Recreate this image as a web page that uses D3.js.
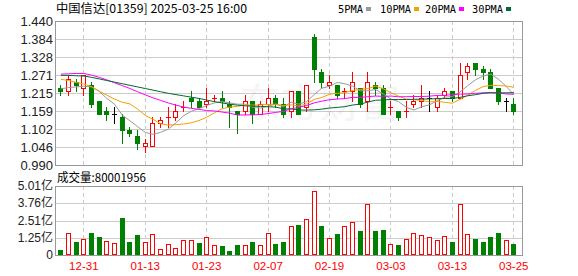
<!DOCTYPE html>
<html><head><meta charset="utf-8">
<script src="https://cdn.jsdelivr.net/npm/d3@7"></script>
<style>body{margin:0;background:#fff}svg{display:block}</style>
</head><body><svg id="c" width="578" height="276"></svg>
<script>
const dates = ["12-24","12-27","12-30","12-31","01-02","01-03","01-06","01-07","01-08","01-09","01-10","01-13","01-14","01-15","01-16","01-17","01-20","01-21","01-22","01-23","01-24","01-27","01-28","02-03","02-04","02-05","02-06","02-07","02-10","02-11","02-12","02-13","02-14","02-17","02-18","02-19","02-20","02-21","02-24","02-25","02-26","02-27","02-28","03-03","03-04","03-05","03-06","03-07","03-10","03-11","03-12","03-13","03-14","03-17","03-18","03-19","03-20","03-21","03-24","03-25"];
const open  = [1.23,1.22,1.25,1.23,1.24,1.19,1.16,1.15,1.14,1.10,1.08,1.05,1.05,1.12,1.14,1.14,1.17,1.20,1.19,1.18,1.20,1.20,1.18,1.16,1.16,1.19,1.15,1.18,1.20,1.18,1.16,1.22,1.17,1.39,1.28,1.24,1.24,1.22,1.22,1.23,1.19,1.24,1.23,1.17,1.16,1.16,1.18,1.19,1.20,1.17,1.21,1.22,1.20,1.28,1.31,1.29,1.28,1.23,1.19,1.18];
const high  = [1.24,1.27,1.26,1.27,1.25,1.19,1.17,1.17,1.15,1.11,1.10,1.07,1.14,1.14,1.17,1.18,1.19,1.22,1.20,1.23,1.21,1.22,1.19,1.16,1.21,1.19,1.19,1.23,1.21,1.20,1.22,1.22,1.24,1.40,1.29,1.27,1.24,1.23,1.28,1.23,1.28,1.25,1.24,1.19,1.16,1.19,1.21,1.24,1.22,1.21,1.23,1.22,1.31,1.31,1.31,1.30,1.29,1.23,1.20,1.20];
const low   = [1.21,1.21,1.22,1.21,1.17,1.15,1.13,1.12,1.06,1.08,1.04,1.03,1.05,1.11,1.11,1.13,1.16,1.17,1.17,1.17,1.19,1.17,1.11,1.09,1.15,1.12,1.15,1.16,1.17,1.14,1.14,1.15,1.16,1.25,1.23,1.23,1.20,1.20,1.19,1.17,1.16,1.21,1.15,1.15,1.13,1.14,1.17,1.17,1.16,1.16,1.20,1.19,1.20,1.26,1.27,1.26,1.23,1.18,1.16,1.15];
const close = [1.22,1.26,1.24,1.27,1.18,1.15,1.15,1.15,1.10,1.09,1.06,1.06,1.12,1.13,1.14,1.16,1.17,1.19,1.17,1.19,1.20,1.19,1.17,1.15,1.19,1.15,1.18,1.20,1.18,1.15,1.22,1.15,1.24,1.29,1.25,1.25,1.21,1.22,1.25,1.18,1.25,1.23,1.15,1.17,1.14,1.16,1.19,1.20,1.20,1.20,1.22,1.20,1.27,1.30,1.29,1.28,1.23,1.19,1.19,1.16];
const prevCloseBefore = 1.23;
const volume = [36000000,158000000,94000000,114000000,160000000,131000000,102000000,87000000,269000000,94000000,145000000,94000000,150000000,44000000,78000000,51000000,109000000,109000000,87000000,129000000,70000000,65000000,29000000,73000000,70000000,94000000,70000000,158000000,80000000,94000000,208000000,218000000,259000000,462000000,210000000,121000000,152000000,208000000,237000000,174000000,368000000,174000000,182000000,78000000,70000000,114000000,160000000,143000000,129000000,109000000,136000000,94000000,368000000,150000000,114000000,94000000,129000000,160000000,109000000,80001956];
// leading moving-average values (windows reaching before the first visible day)
const ma5Lead  = [1.228,1.232,1.234,1.236];
const ma10Lead = [1.258,1.254,1.248,1.243,1.235,1.221,1.208,1.196,1.186];
const ma20Lead = [1.274,1.275,1.276,1.276,1.271,1.264,1.256,1.247,1.238,1.229,1.219,1.209,1.200,1.192,1.184,1.177,1.171,1.167,1.164];
const ma30Lead = [1.270,1.270,1.269,1.268,1.264,1.259,1.254,1.249,1.244,1.239,1.234,1.229,1.224,1.219,1.214,1.210,1.206,1.202,1.198,1.193,1.188,1.184,1.180,1.177,1.175,1.174,1.173,1.172,1.171];
const priceTicks = [0.990,1.04625,1.1025,1.15875,1.215,1.27125,1.3275,1.38375,1.440];
const priceTickLabels = ["0.990","1.046","1.102","1.159","1.215","1.271","1.328","1.384","1.440"];
const volTicks = [0,125250000,250500000,375750000,501000000];
const volTickLabels = ["0","1.25亿","2.51亿","3.76亿","5.01亿"];
const dateLabels = ["12-31","01-13","01-23","02-07","02-19","03-03","03-13","03-25"];
const maNames = ["5PMA","10PMA","20PMA","30PMA"];
const title = "中国信达[01359] 2025-03-25 16:00";
const volTitle = "成交量:80001956";

const RED="#ff0000", GREEN="#008000", BLACK="#000";
const maColors=["#999999","#f2a100","#ff00ff","#006a33"];
const L=56, R=522, PT=21, PB=165, VT=186, VB=255;
const svg=d3.select("#c");
const x=d3.scalePoint().domain(dates).range([60.3,513.3]);
const y=d3.scaleLinear().domain([0.990,1.440]).range([PB,PT]);
const yv=d3.scaleLinear().domain([0,501000000]).range([VB,VT]);
const cx=d=>Math.round(x(d));

// moving averages
function ma(n, lead){ return close.map((c,i)=> i<lead.length ? lead[i] : d3.mean(close.slice(i-n+1,i+1))); }
const mas=[ma(5,ma5Lead),ma(10,ma10Lead),ma(20,ma20Lead),ma(30,ma30Lead)];

// grids
const g=svg.append("g").attr("shape-rendering","crispEdges");
g.selectAll(".hp").data(priceTicks.slice(1,-1)).join("line")
 .attr("x1",L).attr("x2",R).attr("y1",d=>Math.round(y(d))+0.5).attr("y2",d=>Math.round(y(d))+0.5).attr("stroke","#cccccc");
g.selectAll(".hv").data(volTicks.slice(1,-1)).join("line")
 .attr("x1",L).attr("x2",R).attr("y1",d=>Math.round(yv(d))+0.5).attr("y2",d=>Math.round(yv(d))+0.5).attr("stroke","#cccccc");
dateLabels.forEach(dl=>{
  const xx=cx(dl)+0.5;
  [[PT,PB],[VT,VB]].forEach(([a,b])=>g.append("line").attr("x1",xx).attr("x2",xx).attr("y1",a).attr("y2",b)
   .attr("stroke","#cccccc").attr("stroke-dasharray","4,3"));
});
// watermark
svg.append("text").attr("x",240).attr("y",117).attr("font-family","Noto Sans CJK SC").attr("font-size",40)
 .attr("fill","#000").attr("opacity",0.035).text("东方财富");

// borders
[[PT,PB],[VT,VB]].forEach(([a,b])=>g.append("rect").attr("x",L-0.5).attr("y",a+0.5).attr("width",R-L+1).attr("height",b-a)
 .attr("fill","none").attr("stroke","#999999"));

// candles
const prevC=i=> i===0?prevCloseBefore:close[i-1];
function cColor(i){ if(close[i]>open[i])return RED; if(close[i]<open[i])return GREEN;
  return close[i]>prevC(i)?RED:(close[i]<prevC(i)?GREEN:BLACK); }
const cg=svg.append("g").attr("shape-rendering","crispEdges");
dates.forEach((d,i)=>{
  const c=cx(d), col=cColor(i);
  const yt=Math.round(y(Math.max(open[i],close[i]))), yb=Math.round(y(Math.min(open[i],close[i])));
  cg.append("line").attr("x1",c+0.5).attr("x2",c+0.5).attr("y1",Math.round(y(high[i]))).attr("y2",Math.round(y(low[i]))+1).attr("stroke",col);
  if(close[i]>open[i]){
    cg.append("rect").attr("x",c-2+0.5).attr("y",yt+0.5).attr("width",4).attr("height",Math.max(1,yb-yt)).attr("fill","#fff").attr("stroke",col);
  } else if(close[i]<open[i]){
    cg.append("rect").attr("x",c-2).attr("y",yt).attr("width",5).attr("height",Math.max(1,yb-yt+1)).attr("fill",col);
  } else {
    cg.append("line").attr("x1",c-2).attr("x2",c+3).attr("y1",yt+0.5).attr("y2",yt+0.5).attr("stroke",col);
  }
});
// MA lines
const line=d3.line().x((v,i)=>x(dates[i])+0.5).y(v=>y(v));
mas.forEach((m,k)=>svg.append("path").attr("d",line(m)).attr("fill","none").attr("stroke",maColors[k]).attr("stroke-width",1));

// volume bars
const vg=svg.append("g").attr("shape-rendering","crispEdges");
dates.forEach((d,i)=>{
  const c=cx(d), up=close[i]>=prevC(i), top=Math.round(yv(volume[i]));
  if(up) vg.append("rect").attr("x",c-2+0.5).attr("y",top+0.5).attr("width",4).attr("height",VB-top-1).attr("fill","#fff").attr("stroke",RED);
  else vg.append("rect").attr("x",c-2).attr("y",top).attr("width",5).attr("height",VB-top).attr("fill",GREEN);
});

// axis labels
const axg=svg.append("g").attr("font-family","Liberation Sans, Arial, sans-serif").attr("fill","#222");
priceTicks.forEach((t,i)=>axg.append("text").attr("x",53).attr("y",y(t)+4.5).attr("text-anchor","end").attr("font-size",13).text(priceTickLabels[i]));
volTicks.forEach((t,i)=>axg.append("text").attr("x",53).attr("y",yv(t)+4).attr("text-anchor","end").attr("font-size",12)
  .attr("font-family","Liberation Sans, Noto Sans CJK SC").text(volTickLabels[i]));
dateLabels.forEach(dl=>svg.append("text").attr("x",x(dl)+0.5).attr("y",270).attr("text-anchor","middle")
  .attr("font-family","Liberation Sans, Arial").attr("font-size",11.5).attr("fill",RED).text(dl));

// title & legend
svg.append("text").attr("x",56).attr("y",13).attr("font-family","Noto Sans CJK SC").attr("font-size",12).attr("fill","#000")
  .attr("textLength",191).attr("lengthAdjust","spacingAndGlyphs").text(title);
const legX=[338,380,425,472], legW=[25,31,31,31];
maNames.forEach((n,k)=>{
  svg.append("text").attr("x",legX[k]).attr("y",13).attr("font-family","DejaVu Sans Mono, monospace").attr("font-size",11)
   .attr("textLength",legW[k]).attr("lengthAdjust","spacingAndGlyphs").attr("fill","#000").text(n);
  svg.append("rect").attr("x",legX[k]+legW[k]+3).attr("y",7).attr("width",5).attr("height",4).attr("fill",maColors[k]);
});
svg.append("text").attr("x",57).attr("y",182).attr("font-family","Noto Sans CJK SC").attr("font-size",12).attr("fill","#000")
  .attr("textLength",89).attr("lengthAdjust","spacingAndGlyphs").text(volTitle);
</script></body></html>
